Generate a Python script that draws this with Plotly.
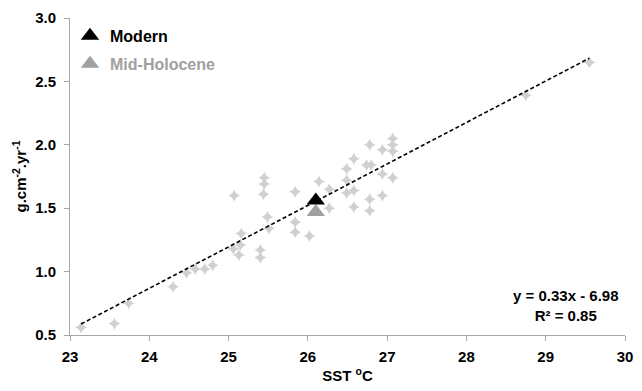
import plotly.graph_objects as go

# Core sites: sea-surface temperature (°C) and calcification rate (g.cm-2.yr-1)
sst = [23.14, 23.56, 23.74, 24.30, 24.47, 24.58, 24.70, 24.80, 25.06, 25.07,
       25.13, 25.15, 25.16, 25.40, 25.40, 25.44, 25.45, 25.45, 25.49, 25.51,
       25.84, 25.84, 25.84, 26.02, 26.14, 26.27, 26.27, 26.49, 26.49, 26.49,
       26.58, 26.58, 26.58, 26.74, 26.80, 26.78, 26.78, 26.78, 26.94, 26.94,
       26.94, 27.07, 27.07, 27.07, 27.07, 28.75, 29.55]
calcification = [0.56, 0.59, 0.75, 0.88, 0.99, 1.02, 1.02, 1.05, 1.18, 1.60,
                 1.13, 1.21, 1.30, 1.11, 1.17, 1.61, 1.69, 1.74, 1.43, 1.34,
                 1.63, 1.39, 1.31, 1.28, 1.71, 1.65, 1.50, 1.81, 1.72, 1.62,
                 1.89, 1.64, 1.51, 1.84, 1.84, 2.00, 1.57, 1.48, 1.96, 1.77,
                 1.60, 2.05, 2.00, 1.95, 1.74, 2.39, 2.65]

# Reconstructed means
modern_sst = [26.1]
modern_calc = [1.56]
holocene_sst = [26.1]
holocene_calc = [1.47]

# Linear regression of calcification on SST
trend_slope = 0.327
trend_intercept = -6.98
trend_r2 = 0.85
trend_x = [min(sst), max(sst)]

x_ticks = [23, 24, 25, 26, 27, 28, 29, 30]
y_ticks = [0.5, 1.0, 1.5, 2.0, 2.5, 3.0]

FONT = "Liberation Sans, Arial, sans-serif"

fig = go.Figure()

fig.add_trace(go.Scatter(
    x=sst, y=calcification, mode="markers", showlegend=False,
    marker=dict(symbol="star-diamond", size=9, color="#d0d0d0",
                line=dict(width=0)),
    hoverinfo="x+y",
))

fig.add_trace(go.Scatter(
    x=trend_x, y=[trend_slope * v + trend_intercept for v in trend_x],
    mode="lines", showlegend=False,
    line=dict(color="black", width=1.6, dash="4px,2.5px"),
    hoverinfo="skip",
))

fig.add_trace(go.Scatter(
    x=holocene_sst, y=holocene_calc, mode="markers",
    name="<span style='color:#a0a0a0'><b>Mid-Holocene</b></span>",
    legendgroup="holocene", legendrank=2,
    marker=dict(symbol="triangle-up", size=16, color="#a0a0a0"),
))
fig.add_trace(go.Scatter(
    x=modern_sst, y=modern_calc, mode="markers",
    name="<b>Modern</b>",
    legendgroup="modern", legendrank=1,
    marker=dict(symbol="triangle-up", size=16, color="black"),
))

sign = "-" if trend_intercept < 0 else "+"
fig.add_annotation(
    xref="paper", yref="paper", x=0.893, y=0.092,
    xanchor="center", yanchor="middle", showarrow=False,
    text=(f"<b>y = {trend_slope:.2f}x {sign} {abs(trend_intercept):.2f}</b><br>"
          f"<b>R² = {trend_r2:.2f}</b>"),
    font=dict(family=FONT, size=15, color="black"),
    align="center",
)

fig.update_layout(
    width=642, height=391,
    margin=dict(l=70, r=9, t=15, b=55),
    paper_bgcolor="white", plot_bgcolor="white",
    font=dict(family=FONT, size=15, color="black"),
    legend=dict(
        x=0.0, y=0.997, xanchor="left", yanchor="top",
        traceorder="grouped", tracegroupgap=4,
        font=dict(family=FONT, size=16),
        bgcolor="rgba(0,0,0,0)",
    ),
    xaxis=dict(
        range=[23, 30], tickvals=x_ticks,
        ticktext=[f"<b>{v}</b>" for v in x_ticks],
        showgrid=False, zeroline=False,
        showline=True, linecolor="#a6a6a6", linewidth=1,
        ticks="outside", ticklen=5, tickcolor="#a6a6a6",
        ticklabelstandoff=3,
        tickfont=dict(family=FONT, size=15),
        title=dict(text="<b>SST <sup>o</sup>C</b>", standoff=6,
                   font=dict(family=FONT, size=15)),
    ),
    yaxis=dict(
        range=[0.5, 3.0], tickvals=y_ticks,
        ticktext=[f"<b>{v:.1f}</b>" for v in y_ticks],
        showgrid=False, zeroline=False,
        showline=True, linecolor="#a6a6a6", linewidth=1,
        ticks="outside", ticklen=5, tickcolor="#a6a6a6",
        ticklabelstandoff=5,
        tickfont=dict(family=FONT, size=15),
        title=dict(text="<b>g.cm<sup>-2</sup>.yr<sup>-1</sup></b>", standoff=4,
                   font=dict(family=FONT, size=15)),
    ),
)

fig.write_html("out.html")
